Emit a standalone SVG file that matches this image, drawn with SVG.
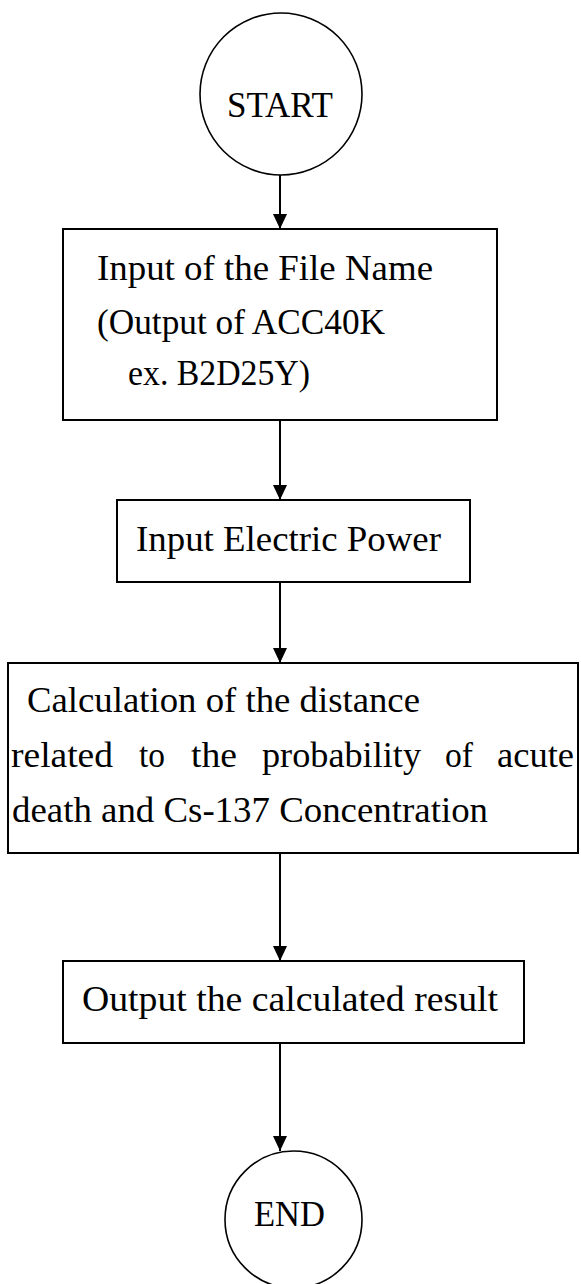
<svg xmlns="http://www.w3.org/2000/svg" width="581" height="1284" viewBox="0 0 581 1284">
<style>
.shape{fill:#fff;stroke:#000;stroke-width:2}
.circ{fill:#fff;stroke:#000;stroke-width:1.6}
.t{font-family:"Liberation Serif","Times New Roman",serif;font-size:35px;fill:#000}
.conn{stroke:#000;stroke-width:2;fill:none}
</style>
<defs>
<marker id="arr" markerUnits="userSpaceOnUse" markerWidth="15" markerHeight="14" refX="15" refY="7" orient="auto" viewBox="0 0 15 14">
<path d="M0,0 L15,7 L0,14 Z" fill="#000"/>
</marker>
</defs>
<rect width="581" height="1284" fill="#fff"/>
<g id="connectors">
<line class="conn" x1="280" y1="175" x2="280" y2="229" marker-end="url(#arr)"/>
<line class="conn" x1="280" y1="420" x2="280" y2="500" marker-end="url(#arr)"/>
<line class="conn" x1="280" y1="582" x2="280" y2="663" marker-end="url(#arr)"/>
<line class="conn" x1="280" y1="853" x2="280" y2="961" marker-end="url(#arr)"/>
<line class="conn" x1="280" y1="1043" x2="280" y2="1151" marker-end="url(#arr)"/>
</g>
<g id="start">
<circle class="circ" cx="281" cy="94" r="81"/>
<text class="t" x="227" y="117" textLength="106" lengthAdjust="spacingAndGlyphs">START</text>
</g>
<g id="input-file">
<rect class="shape" x="63" y="229" width="434" height="191"/>
<text class="t" x="97" y="280" textLength="336" lengthAdjust="spacingAndGlyphs">Input of the File Name</text>
<text class="t" x="97" y="334" textLength="288" lengthAdjust="spacingAndGlyphs">(Output of ACC40K</text>
<text class="t" x="128" y="385" textLength="182" lengthAdjust="spacingAndGlyphs">ex. B2D25Y)</text>
</g>
<g id="input-power">
<rect class="shape" x="117" y="500" width="353" height="82"/>
<text class="t" x="136" y="551" textLength="305" lengthAdjust="spacingAndGlyphs">Input Electric Power</text>
</g>
<g id="calculation">
<rect class="shape" x="8" y="663" width="570" height="190"/>
<text class="t" x="27" y="712" textLength="393" lengthAdjust="spacingAndGlyphs">Calculation of the distance</text>
<text class="t" x="11" y="767" textLength="102" lengthAdjust="spacingAndGlyphs">related</text>
<text class="t" x="139" y="767" textLength="26" lengthAdjust="spacingAndGlyphs">to</text>
<text class="t" x="191" y="767" textLength="46" lengthAdjust="spacingAndGlyphs">the</text>
<text class="t" x="262" y="767" textLength="159" lengthAdjust="spacingAndGlyphs">probability</text>
<text class="t" x="445" y="767" textLength="28" lengthAdjust="spacingAndGlyphs">of</text>
<text class="t" x="497" y="767" textLength="77" lengthAdjust="spacingAndGlyphs">acute</text>
<text class="t" x="12" y="822" textLength="476" lengthAdjust="spacingAndGlyphs">death and Cs-137 Concentration</text>
</g>
<g id="output">
<rect class="shape" x="63" y="961" width="461" height="82"/>
<text class="t" x="82" y="1011" textLength="416" lengthAdjust="spacingAndGlyphs">Output the calculated result</text>
</g>
<g id="end">
<circle class="circ" cx="293.5" cy="1219.5" r="68.5"/>
<text class="t" x="254" y="1226" textLength="71" lengthAdjust="spacingAndGlyphs">END</text>
</g>
</svg>
